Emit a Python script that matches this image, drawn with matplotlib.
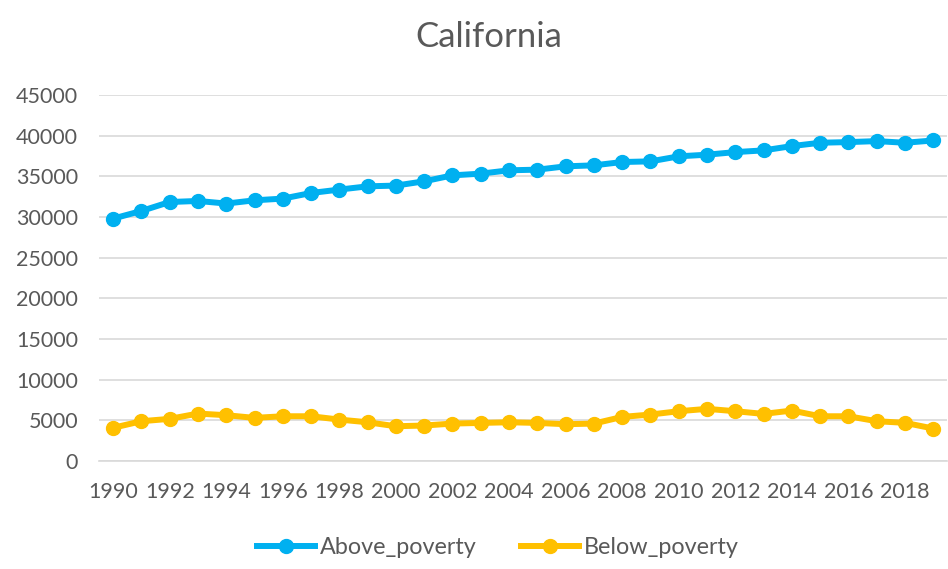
import matplotlib.pyplot as plt
import numpy as np

plt.rcParams['font.family'] = ['Lato', 'DejaVu Sans']

# data
years = list(range(1990, 2020))
above_poverty = [29800, 30740, 31840, 31970, 31650, 32050, 32260, 32950, 33370, 33770,
                 33860, 34390, 35120, 35330, 35740, 35820, 36230, 36350, 36760, 36840,
                 37460, 37660, 37980, 38190, 38720, 39130, 39210, 39330, 39130, 39410]
below_poverty = [4070, 4880, 5170, 5820, 5620, 5290, 5490, 5490, 5080, 4750,
                 4260, 4350, 4590, 4670, 4750, 4670, 4510, 4590, 5410, 5700,
                 6110, 6400, 6110, 5780, 6190, 5490, 5490, 4880, 4680, 3980]
y_ticks = list(range(0, 45001, 5000))

fig = plt.figure(figsize=(9.48, 5.69), dpi=100)
ax = fig.add_axes([0.1044, 0.19, 0.895, 0.643])

x = np.arange(len(years))
ax.plot(x, above_poverty, color='#00B0F0', lw=4.3, marker='o', ms=10, label='Above_poverty')
ax.plot(x, below_poverty, color='#FFC000', lw=4.3, marker='o', ms=10, label='Below_poverty')

ax.set_xlim(-0.5, len(years) - 0.5)
ax.set_ylim(0, 45000)
ax.set_yticks(y_ticks)
ax.set_yticklabels([str(v) for v in y_ticks])
ax.set_xticks(x[::2])
ax.set_xticklabels([str(y) for y in years[::2]])
ax.tick_params(axis='both', length=0, labelsize=15.5, colors='#595959')
ax.tick_params(axis='y', pad=15)
ax.tick_params(axis='x', pad=15)

ax.grid(axis='y', color='#d9d9d9', lw=1.2)
ax.set_axisbelow(True)
for s in ['top', 'right', 'left']:
    ax.spines[s].set_visible(False)
ax.spines['bottom'].set_color('#d9d9d9')
ax.spines['bottom'].set_linewidth(1.2)

fig.text(0.516, 0.935, 'California', ha='center', va='center', fontsize=25, color='#595959')
fig.legend(loc='center', bbox_to_anchor=(0.525, 0.038), ncol=2, frameon=False,
           fontsize=16.8, labelcolor='#595959', handlelength=2.5, handletextpad=0.2,
           columnspacing=1.9)

fig.savefig('out.png', dpi=100)
